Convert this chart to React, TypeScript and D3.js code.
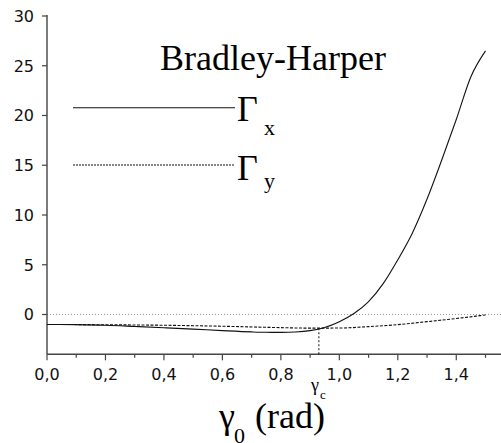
import React from "react";
import * as d3 from "d3";

const gammaX = [0, 0.1, 0.2, 0.3, 0.4, 0.5, 0.6, 0.7, 0.75, 0.8, 0.85, 0.9, 0.95, 1.0, 1.05, 1.1, 1.15, 1.2, 1.25, 1.3, 1.35, 1.4, 1.45, 1.5];
const gammaXValues = [-1.0, -1.02, -1.08, -1.2, -1.33, -1.47, -1.62, -1.75, -1.79, -1.8, -1.76, -1.62, -1.3, -0.72, 0.1, 1.3, 3.1, 5.5, 8.2, 11.6, 15.5, 19.6, 23.9, 26.5];
const gammaYX = [0, 0.2, 0.4, 0.6, 0.8, 0.9, 1.0, 1.1, 1.2, 1.3, 1.4, 1.5];
const gammaYValues = [-1.0, -1.03, -1.08, -1.18, -1.32, -1.37, -1.36, -1.22, -1.02, -0.72, -0.4, -0.05];
const xTicks = [0, 0.2, 0.4, 0.6, 0.8, 1.0, 1.2, 1.4];
const xMinorTicks = [0.1, 0.3, 0.5, 0.7, 0.9, 1.1, 1.3, 1.5];
const yTicks = [0, 5, 10, 15, 20, 25, 30];
const gammaC = 0.93;
const gammaCValue = -1.38;

export default function App() {
  const x = d3.scaleLinear().domain([0, 1.553]).range([47, 501]);
  const y = d3.scaleLinear().domain([-4, 30]).range([354.3, 16]);
  const line = d3
    .line<[number, number]>()
    .x((d) => x(d[0]))
    .y((d) => y(d[1]))
    .curve(d3.curveMonotoneX);
  const px = gammaX.map((v, i) => [v, gammaXValues[i]] as [number, number]);
  const py = gammaYX.map((v, i) => [v, gammaYValues[i]] as [number, number]);
  const fmt = (v: number) => v.toFixed(1).replace(".", ",");
  const tickFont = "'DejaVu Sans', sans-serif";
  const serif = "'Liberation Serif', Tinos, 'Times New Roman', Times, 'DejaVu Serif', serif";
  const axisColor = "#444";
  const [x0, x1] = x.range();
  const yBottom = y(-4);
  return (
    <svg width={501} height={443} style={{ position: "absolute", left: 0, top: 0, background: "#fff" }}>
      {/* zero line */}
      <line x1={x0} x2={x1} y1={y(0)} y2={y(0)} stroke="#999" strokeWidth={1} strokeDasharray="1,2" />
      {/* axes */}
      <line x1={x0} x2={x0} y1={y(30) - 1} y2={yBottom} stroke={axisColor} strokeWidth={1.4} />
      <line x1={x0} x2={x1} y1={yBottom} y2={yBottom} stroke={axisColor} strokeWidth={1.4} />
      {yTicks.map((t) => (
        <g key={"y" + t}>
          <line x1={x0 - 5} x2={x0} y1={y(t)} y2={y(t)} stroke={axisColor} strokeWidth={1.2} />
          <text x={34} y={y(t)} dy="0.36em" textAnchor="end" fontFamily={tickFont} fontSize={16} fill="#111">
            {t}
          </text>
        </g>
      ))}
      {xTicks.map((t) => (
        <g key={"x" + t}>
          <line x1={x(t)} x2={x(t)} y1={yBottom} y2={yBottom + 6} stroke={axisColor} strokeWidth={1.2} />
          <text x={x(t)} y={380} textAnchor="middle" fontFamily={tickFont} fontSize={16} fill="#111">
            {fmt(t)}
          </text>
        </g>
      ))}
      {xMinorTicks.map((t) => (
        <line key={"m" + t} x1={x(t)} x2={x(t)} y1={yBottom} y2={yBottom + 3.5} stroke={axisColor} strokeWidth={1.2} />
      ))}
      {/* gamma_c marker */}
      <line x1={x(gammaC)} x2={x(gammaC)} y1={y(gammaCValue)} y2={yBottom} stroke="#111" strokeWidth={1} strokeDasharray="2,2" />
      {/* curves */}
      <path d={line(py) || ""} fill="none" stroke="#111" strokeWidth={1.1} strokeDasharray="3,1.5" />
      <path d={line(px) || ""} fill="none" stroke="#111" strokeWidth={1.1} />
      {/* title */}
      <text x={160} y={70} fontFamily={serif} fontSize={36} fill="#000">
        Bradley-Harper
      </text>
      {/* legend */}
      <line x1={73} x2={235} y1={107.7} y2={107.7} stroke="#111" strokeWidth={1.1} />
      <text x={237} y={121} fontFamily={serif} fontSize={36} fill="#000">
        Γ
      </text>
      <text x={264} y={135} fontFamily={serif} fontSize={22} fill="#000">
        x
      </text>
      <line x1={73} x2={235} y1={165} y2={165} stroke="#111" strokeWidth={1} strokeDasharray="2,1" />
      <text x={237} y={180} fontFamily={serif} fontSize={36} fill="#000">
        Γ
      </text>
      <text x={264} y={188} fontFamily={serif} fontSize={22} fill="#000">
        y
      </text>
      {/* gamma_c label */}
      <text x={311} y={391} fontFamily={serif} fontSize={18} fill="#000">
        γ
      </text>
      <text x={320} y={399} fontFamily={serif} fontSize={13} fill="#000">
        c
      </text>
      {/* x axis title */}
      <text x={219} y={428} fontFamily={serif} fontSize={36} fill="#000">
        γ
      </text>
      <text x={234} y={443} fontFamily={serif} fontSize={22} fill="#000">
        0
      </text>
      <text x={255} y={428} fontFamily={serif} fontSize={36} fill="#000">
        (rad)
      </text>
    </svg>
  );
}
